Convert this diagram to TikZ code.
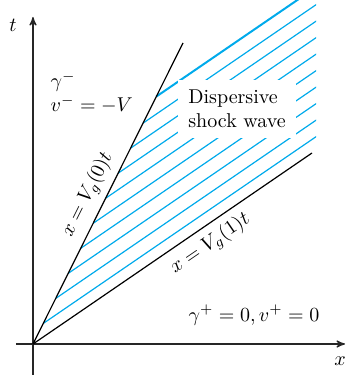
\documentclass[tikz,border=0pt]{standalone}
\usepackage{amsmath}
\usetikzlibrary{arrows}
\definecolor{hatchblue}{RGB}{0,170,235}

\begin{document}
\begin{tikzpicture}[>=stealth',x=0.5pt,y=0.5pt,semithick]

  \useasboundingbox (-33,-31) rectangle (312,344);
  \coordinate (O)    at (0,0);
  \coordinate (tBeg) at (0,-31);
  \coordinate (tEnd) at (0,327);
  \coordinate (xBeg) at (-17,0);
  \coordinate (xEnd) at (312,0);
  \coordinate (A)    at (150,301);
  \coordinate (B)    at (279,191);

  % hatching of the fan
  \begin{scope}
    \clip (0,0) rectangle (283,344);
    \foreach \k in {0,...,8}{
      \pgfmathsetmacro{\off}{13.5+16.5*\k}
      \draw[hatchblue] ({\off/1.3221},{2.0067*\off/1.3221}) -- ++(300,205.4);
    }
    \draw[hatchblue,line width=1pt] ({163/1.3221},{2.0067*163/1.3221}) -- ++(300,205.4);
  \end{scope}

  \draw[->,black!85] (tBeg) -- (tEnd);
  \draw[->,black!85] (xBeg) -- (xEnd);
  \node (tlab) at (-20,319) {$t$};
  \node (xlab) at (307,-17) {$x$};

  \path (O) edge node[sloped,above,pos=0.47] {$x=V_g(0)t$} (A)
        (O) edge node[sloped,below,pos=0.6] {$x=V_g(1)t$} (B);

  \node[fill=white,align=left,inner sep=5pt] (dsw) at (204,235) {Dispersive\\shock wave};
  \node[align=left,anchor=north west,inner sep=0pt] (minus) at (17,273) {$\gamma^-$\\$v^-=-V$};
  \node (plus) at (221,29) {$\gamma^+=0,v^+=0$};
\end{tikzpicture}
\end{document}
